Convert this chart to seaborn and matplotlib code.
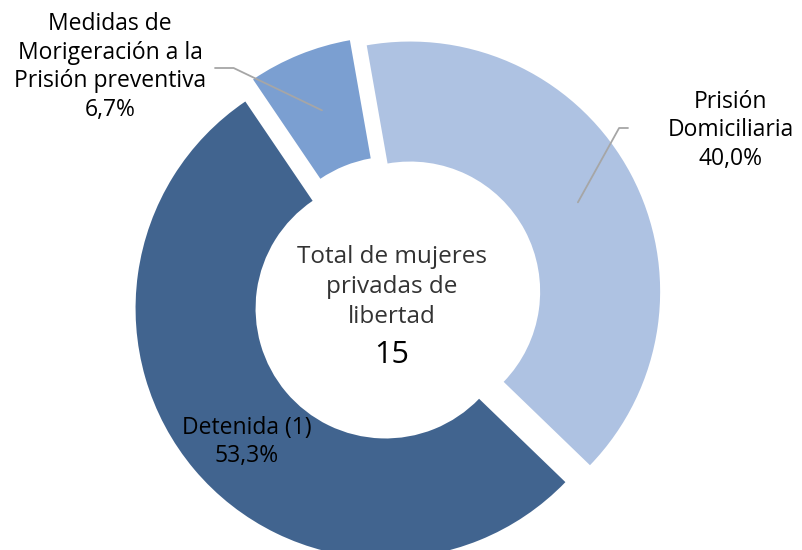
import seaborn as sns
import matplotlib.pyplot as plt
import numpy as np

categorias = ["Prisión\nDomiciliaria", "Detenida (1)", "Medidas de\nMorigeración a la\nPrisión preventiva"]
porcentajes = [40.0, 53.3, 6.7]
etiquetas_pct = ["40,0%", "53,3%", "6,7%"]
total = 15
colores = ["#aec2e2", "#41648f", "#7b9fd1"]

sns.set_theme(style="white")
plt.rcParams["font.family"] = ["Open Sans", "DejaVu Sans"]

fig = plt.figure(figsize=(8.03, 5.5), dpi=100)
ax = fig.add_axes([0, 0, 1, 1])

wedges, _ = ax.pie(porcentajes, colors=colores, startangle=100, counterclock=False,
                   explode=(0.055, 0.065, 0.05), radius=1,
                   wedgeprops=dict(width=0.48, linewidth=0))

ax.set_aspect("equal")
ax.set_xlim(-1.592, 1.62)
ax.set_ylim(-1.008, 1.192)
ax.axis("off")

# texto central
ax.text(-0.024, 0.044, "Total de mujeres\nprivadas de\nlibertad", ha="center", va="center",
        fontsize=17.5, color="#333333", linespacing=1.35)
ax.text(-0.024, -0.228, str(total), ha="center", va="center", fontsize=22, color="#000000")

def punto_medio(w, r):
    ang = np.deg2rad((w.theta1 + w.theta2) / 2)
    cx, cy = w.center
    return cx + r * np.cos(ang), cy + r * np.sin(ang)

gris = "#a6a6a6"

# Prisión Domiciliaria
ax.text(1.332, 0.672, categorias[0] + "\n" + etiquetas_pct[0], ha="center", va="center",
        fontsize=16.5, color="#000000", linespacing=1.25)
ax.annotate("", xy=punto_medio(wedges[0], 0.76), xytext=(0.92, 0.68),
            arrowprops=dict(arrowstyle="-", color=gris, lw=1.3,
                            connectionstyle="angle,angleA=0,angleB=61,rad=0",
                            shrinkA=0, shrinkB=0))

# Medidas de Morigeración
ax.text(-1.152, 0.924, categorias[2] + "\n" + etiquetas_pct[2], ha="center", va="center",
        fontsize=16.5, color="#000000", linespacing=1.25)
ax.annotate("", xy=punto_medio(wedges[2], 0.76), xytext=(-0.732, 0.92),
            arrowprops=dict(arrowstyle="-", color=gris, lw=1.3,
                            connectionstyle="angle,angleA=0,angleB=-25.6,rad=0",
                            shrinkA=0, shrinkB=0))

# Detenida (dentro del sector)
ax.text(-0.604, -0.576, categorias[1] + "\n" + etiquetas_pct[1], ha="center", va="center",
        fontsize=16.5, color="#000000", linespacing=1.25)

fig.savefig("out.png", dpi=100)
